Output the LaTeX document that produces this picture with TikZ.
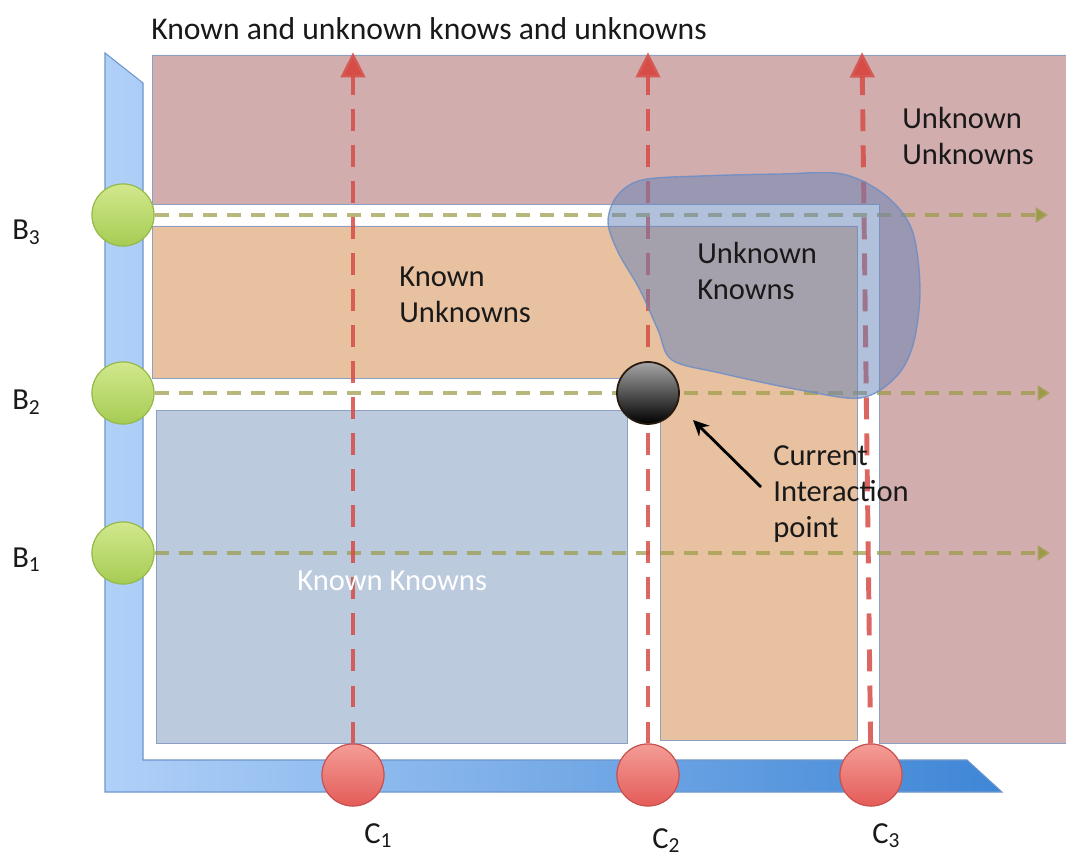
\documentclass[tikz,border=0pt]{standalone}
\usepackage{fontspec}
\setmainfont{Carlito}
\usetikzlibrary{arrows.meta}
\definecolor{rosec}{RGB}{210,173,173}
\definecolor{orangec}{RGB}{232,193,160}
\definecolor{bluec}{RGB}{188,202,221}
\definecolor{edgec}{RGB}{140,160,198}
\definecolor{axislight}{RGB}{176,208,248}
\definecolor{axisdark}{RGB}{62,134,214}
\definecolor{axisedge}{RGB}{110,150,205}
\definecolor{reddash}{RGB}{214,76,70}
\definecolor{greendash}{RGB}{155,155,70}
\definecolor{blobfill}{RGB}{100,130,185}
\definecolor{blobedge}{RGB}{105,140,200}
\definecolor{greentop}{RGB}{210,232,140}
\definecolor{greenbot}{RGB}{166,204,84}
\definecolor{greenedge}{RGB}{150,185,75}
\definecolor{redtop}{RGB}{244,156,150}
\definecolor{redbot}{RGB}{228,92,88}
\definecolor{rededge}{RGB}{200,80,80}
\definecolor{txt}{RGB}{25,25,25}
\begin{document}
\begin{tikzpicture}[x=0.02cm,y=-0.02cm,
  region/.style={draw=edgec, line width=0.5pt},
  lab/.style={font=\fontsize{17.4}{20.6}\selectfont, text=txt, inner sep=0pt, align=left, anchor=base west},
  greenball/.style={circle, minimum size=1.24cm, inner sep=0pt, draw=greenedge, line width=0.6pt, top color=greentop, bottom color=greenbot},
  redball/.style={circle, minimum size=1.24cm, inner sep=0pt, draw=rededge, line width=0.6pt, top color=redtop, bottom color=redbot},
  blackball/.style={circle, minimum size=1.24cm, inner sep=0pt, draw=black!80!brown, line width=1pt, top color=black!35, bottom color=black},
  redarrow/.style={draw=reddash, draw opacity=0.85, line width=2.8pt, dash pattern=on 12.5pt off 8pt, -{Triangle[width=13.6pt,length=14.5pt]}},
  greenarrow/.style={draw=greendash, draw opacity=0.7, line width=2.5pt, dash pattern=on 8pt off 5.7pt, -{Triangle[width=8.5pt,length=7pt]}},
  blob/.style={fill=blobfill, fill opacity=0.5, draw=blobedge, draw opacity=0.8, line width=0.8pt},
  pointer/.style={draw=black, line width=1.6pt, -{Stealth[length=9pt,width=8.5pt]}}
]
\useasboundingbox (0,0) rectangle (1066,858);
\fill[white] (0,0) rectangle (1066,858);

% title
\node[lab, font=\fontsize{18}{21}\selectfont] (title) at (151,40) {Known and unknown knows and unknowns};

% axis L-bar
\path[draw=axisedge, line width=0.6pt, left color=axislight, right color=axisdark]
  (105,53) -- (143,83) -- (143,760) -- (967,760) -- (1002,792) -- (105,792) -- cycle;

% regions
\path[region, fill=rosec] (152,55) -- (1066,55) -- (1066,743) -- (879,743) -- (879,204) -- (152,204) -- cycle;
\path[region, fill=orangec] (152,226) -- (857,226) -- (857,740) -- (660,740) -- (660,378) -- (152,378) -- cycle;
\path[region, fill=bluec] (156,410) rectangle (627,743);

% B and C points
\node[greenball] (B3) at (123,215) {};
\node[greenball] (B2) at (123,393) {};
\node[greenball] (B1) at (123,553) {};
\node[redball] (C1) at (353,775) {};
\node[redball] (C2) at (648,775) {};
\node[redball] (C3) at (871,775) {};

% arrow ends
\coordinate (g3) at (1048,215);
\coordinate (g2) at (1050,393);
\coordinate (g1) at (1050,553);
\coordinate (t1) at (353,52);
\coordinate (t2) at (648,52);
\coordinate (t3) at (862,52);

\draw[greenarrow] (B3) -- (g3);
\draw[greenarrow] (B2) -- (g2);
\draw[greenarrow] (B1) -- (g1);
\draw[redarrow] (C1) -- (t1);
\draw[redarrow] (C2) -- (t2);
\draw[redarrow] (C3) -- (t3);

% redraw circles on top of the lines
\node[greenball] at (B3) {};
\node[greenball] at (B2) {};
\node[greenball] at (B1) {};
\node[redball] at (C1) {};
\node[redball] at (C2) {};
\node[redball] at (C3) {};

% unknown knowns blob
\path[blob] plot[smooth cycle, tension=0.55] coordinates {
  (608,222) (617,196) (642,180) (700,176) (780,174) (842,174) (885,195)
  (912,230) (920,290) (913,345) (895,378) (860,398) (800,390) (720,373)
  (672,360) (658,330) (640,290) (618,252)};

% current interaction point
\node[blackball] (P) at (648,393) {};
\coordinate (atail) at (761,487);
\coordinate (ahead) at (693,420);
\draw[pointer] (atail) -- (ahead);

% labels (base anchor = last line's baseline)
\node[lab] (uu) at (902,165) {Unknown\\Unknowns};
\node[lab] (uk) at (697,300) {Unknown\\Knowns};
\node[lab] (ku) at (399,323) {Known\\Unknowns};
\node[lab] (cip) at (773,538) {Current\\Interaction\\point};
\node[lab, text=white] (kk) at (297,590) {Known Knowns};

\node[lab] (lB3) at (12,240) {B\textsubscript{3}};
\node[lab] (lB2) at (12,410) {B\textsubscript{2}};
\node[lab] (lB1) at (12,567) {B\textsubscript{1}};
\node[lab] (lC1) at (364,843) {C\textsubscript{1}};
\node[lab] (lC2) at (652,848) {C\textsubscript{2}};
\node[lab] (lC3) at (872,843) {C\textsubscript{3}};
\end{tikzpicture}
\end{document}
